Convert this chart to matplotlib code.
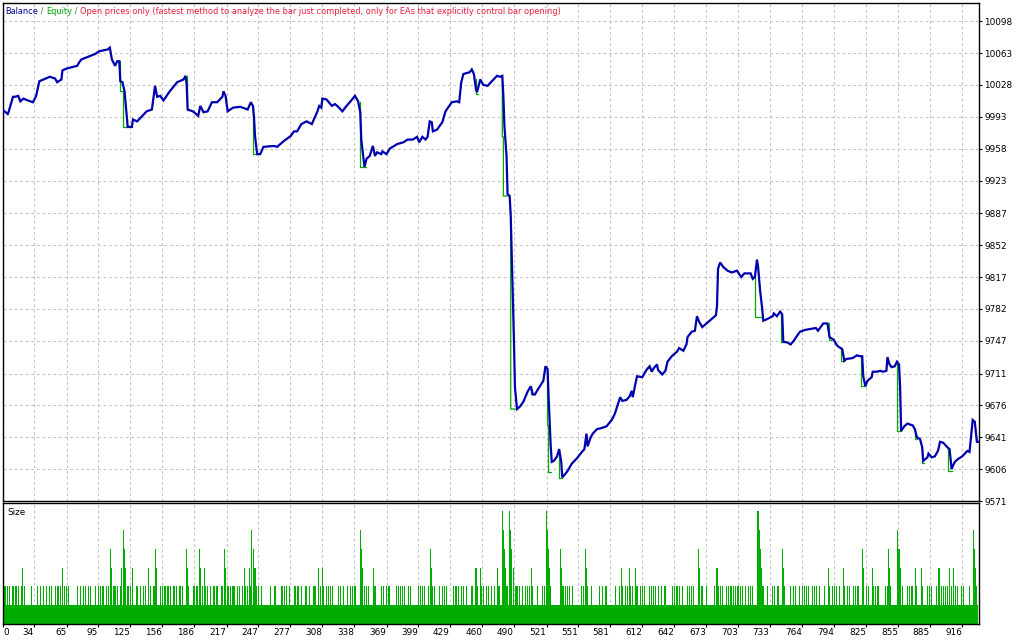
import numpy as np
import matplotlib.pyplot as plt

# balance curve (trade number, account balance)
balance_trades = [4, 9, 10, 14, 16, 19, 21, 24, 28, 33, 36, 39, 49, 54, 56, 60, 61, 65, 75, 77, 79, 92, 96, 104, 106,
                  108, 111, 113, 115, 116, 118, 120, 123, 127, 128, 132, 141, 146, 149, 151, 154, 157, 163, 170, 176,
                  178, 179, 180, 185, 190, 192, 195, 199, 203, 208, 213, 214, 216, 218, 223, 230, 237, 240, 242, 243,
                  244, 246, 249, 252, 262, 265, 271, 278, 281, 284, 288, 293, 298, 301, 303, 305, 307, 308, 312, 317,
                  320, 323, 327, 331, 334, 339, 342, 344, 345, 346, 348, 350, 353, 356, 358, 360, 364, 365, 369, 372,
                  379, 385, 389, 394, 398, 400, 403, 406, 408, 410, 412, 413, 417, 422, 425, 431, 436, 438, 440, 442,
                  448, 450, 452, 454, 455, 458, 461, 465, 469, 474, 477, 479, 480, 481, 483, 484, 486, 487, 488, 489,
                  490, 491, 493, 496, 499, 503, 506, 508, 510, 513, 518, 520, 522, 523, 525, 526, 528, 531, 533, 535,
                  536, 539, 541, 545, 550, 554, 557, 559, 560, 563, 565, 569, 573, 578, 583, 586, 591, 593, 597, 600,
                  602, 603, 605, 607, 612, 616, 619, 621, 623, 626, 627, 631, 634, 636, 640, 645, 647, 651, 654, 655,
                  659, 662, 664, 666, 669, 672, 676, 682, 683, 684, 686, 689, 693, 697, 702, 706, 709, 715, 717, 719,
                  721, 722, 724, 726, 727, 731, 736, 737, 740, 743, 745, 746, 750, 753, 756, 760, 762, 767, 772, 777,
                  779, 784, 788, 790, 794, 797, 799, 802, 804, 806, 812, 816, 819, 821, 822, 824, 826, 830, 831, 835,
                  838, 841, 844, 845, 847, 849, 852, 854, 856, 857, 858, 861, 864, 869, 871, 873, 876, 878, 879, 883,
                  884, 887, 890, 893, 895, 898, 902, 904, 906, 907, 909, 912, 916, 921, 923, 926, 928, 930, 932]
balance_values = [10001, 9996, 9999, 10015, 10015, 10016, 10010, 10013, 10011, 10009, 10016, 10032, 10037, 10035,
                  10031, 10034, 10044, 10046, 10049, 10053, 10056, 10062, 10065, 10067, 10069, 10056, 10049, 10054,
                  10054, 10032, 10031, 10021, 9982, 9982, 9990, 9988, 9999, 10001, 10027, 10015, 10016, 10011, 10021,
                  10031, 10034, 10038, 10029, 10001, 9999, 9994, 10005, 9998, 9999, 10009, 10009, 10015, 10021, 10016,
                  9999, 10003, 10004, 10001, 10009, 10005, 9993, 9972, 9952, 9952, 9960, 9961, 9960, 9966, 9972, 9977,
                  9977, 9985, 9988, 9985, 9993, 9998, 10005, 10003, 10013, 10012, 10005, 10007, 10004, 9999, 10005,
                  10009, 10016, 10010, 9998, 9968, 9958, 9938, 9947, 9950, 9961, 9950, 9954, 9952, 9955, 9952, 9958,
                  9963, 9965, 9968, 9968, 9971, 9965, 9971, 9968, 9971, 9988, 9987, 9977, 9979, 9987, 9999, 10009,
                  10010, 10009, 10031, 10040, 10042, 10045, 10040, 10023, 10020, 10034, 10028, 10027, 10032, 10038,
                  10037, 10038, 10016, 9983, 9950, 9908, 9906, 9884, 9840, 9793, 9750, 9696, 9672, 9675, 9680, 9691,
                  9697, 9688, 9688, 9694, 9703, 9719, 9716, 9685, 9631, 9614, 9615, 9620, 9628, 9614, 9597, 9601,
                  9604, 9612, 9618, 9624, 9628, 9645, 9631, 9641, 9645, 9650, 9651, 9653, 9660, 9667, 9685, 9681,
                  9682, 9686, 9692, 9685, 9697, 9708, 9707, 9715, 9719, 9713, 9717, 9721, 9715, 9710, 9714, 9724,
                  9730, 9735, 9739, 9736, 9743, 9751, 9757, 9758, 9774, 9768, 9762, 9765, 9769, 9775, 9785, 9826,
                  9833, 9828, 9824, 9822, 9824, 9817, 9821, 9821, 9815, 9817, 9836, 9829, 9802, 9782, 9769, 9771,
                  9774, 9777, 9774, 9779, 9776, 9746, 9745, 9743, 9747, 9754, 9757, 9759, 9760, 9761, 9758, 9766,
                  9766, 9751, 9748, 9742, 9740, 9738, 9725, 9727, 9728, 9731, 9730, 9730, 9708, 9697, 9703, 9707,
                  9713, 9713, 9714, 9713, 9714, 9729, 9721, 9718, 9719, 9724, 9721, 9697, 9648, 9653, 9656, 9654,
                  9650, 9641, 9639, 9630, 9615, 9619, 9623, 9619, 9620, 9626, 9636, 9635, 9630, 9628, 9606, 9609,
                  9614, 9617, 9620, 9626, 9625, 9660, 9658, 9636, 9636]

# places where equity ran ahead of the balance (drawdown before close)
equity_dips = [
    [(116, 10054), (116, 10021), (119, 10021), (119, 9982), (127, 9982)],
    [(179, 10038), (179, 10001), (181, 10001)],
    [(242, 10005), (242, 9952), (246, 9952)],
    [(344, 10009), (344, 9938), (349, 9938)],
    [(454, 10034), (454, 10018), (456, 10018)],
    [(479, 10037), (479, 9971), (480, 9971), (480, 9906), (486, 9906), (487, 9884), (487, 9672), (493, 9672)],
    [(506, 9697), (506, 9688), (508, 9688)],
    [(521, 9716), (521, 9655), (522, 9655), (522, 9603), (525, 9603)],
    [(533, 9628), (533, 9596), (536, 9596)],
    [(719, 9817), (719, 9773), (725, 9773)],
    [(744, 9779), (744, 9746), (746, 9746)],
    [(789, 9766), (789, 9748), (791, 9748)],
    [(801, 9738), (801, 9725), (804, 9725)],
    [(820, 9730), (820, 9697), (824, 9697)],
    [(854, 9724), (854, 9648), (858, 9648)],
    [(871, 9650), (871, 9639), (873, 9639)],
    [(878, 9630), (878, 9613), (880, 9613)],
    [(903, 9628), (903, 9604), (906, 9604)],
]

# lot size per trade: 1 unless listed
n_trades = 932
lot2 = [6, 7, 9, 11, 14, 16, 17, 19, 22, 25, 32, 37, 40, 43, 46, 49, 51, 54, 56, 57, 59, 63, 65, 67, 75, 78, 81,
        83, 86, 88, 92, 95, 97, 99, 100, 103, 105, 110, 111, 113, 116, 123, 124, 126, 131, 132, 135, 138, 140, 145,
        148, 154, 156, 158, 159, 161, 162, 164, 167, 169, 172, 173, 175, 181, 186, 188, 189, 194, 197, 199, 202,
        205, 207, 208, 212, 213, 218, 219, 221, 223, 224, 227, 229, 232, 235, 237, 240, 245, 247, 250, 259, 263,
        269, 270, 272, 274, 277, 282, 284, 285, 288, 292, 293, 296, 300, 301, 306, 309,
        312, 314, 316, 318, 323, 325, 328, 332, 335, 337, 339, 348, 350, 352, 358, 364, 366, 369, 371, 372, 378,
        380, 382, 384, 386, 390, 392, 399, 401, 403, 405, 409, 413, 415, 419, 422, 424, 426, 433, 435, 437, 440,
        442, 445, 450, 451, 455, 459, 461, 464, 466, 469, 472, 475, 476, 483, 484, 492, 493, 495, 498, 501, 503,
        505, 508, 512, 517, 519, 525, 536, 537, 539, 541, 543, 546, 554, 556, 560, 564, 571, 574, 577, 578, 587,
        590, 593, 596, 598, 601, 603, 607, 610, 612, 614, 619,
        621, 623, 625, 627, 630, 633, 634, 641, 643, 645, 647, 650, 655, 657, 659, 661, 668, 669, 673, 681, 684,
        686, 688, 692, 694, 696, 697, 699, 701, 703, 705, 707, 710, 713, 715, 717, 726, 727, 731, 736, 738, 741,
        747, 753, 756, 758, 761, 764, 766, 768, 770, 774, 776, 778, 780, 785, 790, 793, 795, 797, 799, 804, 807,
        809, 813, 815, 817, 825, 827, 832, 834, 836, 843, 845, 848, 859, 864, 866, 868, 869, 873, 878, 883, 885,
        887, 892, 896, 898, 900, 902, 906, 910, 912, 915, 917, 923, 930]
lot3 = [23, 61, 108, 117, 121, 128, 143, 150, 180, 192, 196, 216, 234, 239, 244, 304, 308, 346, 357, 412, 454,
        458, 474, 482, 490, 507, 524, 535, 559, 592, 600, 606, 666, 683, 725, 746, 789, 803, 822, 831, 847, 857,
        872, 877, 894, 904, 908, 929]
lot4 = [107, 120, 149, 179, 191, 215, 243, 345, 411, 481, 488, 523, 534, 558, 665, 724, 745, 821, 846, 856, 928]
lot5 = [119, 241, 344, 480, 487, 522, 723, 855, 927]
lot6 = [479, 486, 521, 722]

x_labels = [0, 34, 65, 95, 125, 156, 186, 217, 247, 277, 308, 338, 369, 399, 429, 460, 490, 521, 551, 581, 612,
            642, 673, 703, 733, 764, 794, 825, 855, 885, 916]
y_labels = [9571, 9606, 9641, 9676, 9711, 9747, 9782, 9817, 9852, 9887, 9923, 9958, 9993, 10028, 10063, 10098]

sizes = np.ones(n_trades)
for level, idx in [(2, lot2), (3, lot3), (4, lot4), (5, lot5), (6, lot6)]:
    sizes[idx] = np.maximum(sizes[idx], level)

FONT = 'DejaVu Sans'
FS = 6.4
x_left, x_right = 4.5, 932
grid_kw = dict(color='#c4c4c4', linestyle=(0, (2.5, 2.5)), linewidth=0.8)

fig = plt.figure(figsize=(10.24, 6.4), dpi=100)
ax = fig.add_axes([3 / 1024, 1 - 501 / 640, 976 / 1024, 498 / 640])
ax2 = fig.add_axes([3 / 1024, 16 / 640, 976 / 1024, 121 / 640])

xticks = [x_left] + x_labels[1:]

# main panel: balance / equity
for dip in equity_dips:
    ax.plot([p[0] for p in dip], [p[1] for p in dip], color='#00a800', lw=0.9, zorder=2)
ax.plot(balance_trades, balance_values, color='#0000b0', lw=1.6, zorder=3, solid_joinstyle='miter')
ax.set_xlim(x_left, x_right)
ax.set_ylim(9571, 10118)
ax.set_xticks(xticks)
ax.set_yticks(y_labels)
ax.set_yticklabels([str(v) for v in y_labels], fontsize=FS, family=FONT)
ax.yaxis.tick_right()
ax.tick_params(axis='x', length=0, labelbottom=False)
ax.tick_params(axis='y', length=2, width=0.8, pad=2)
ax.grid(True, **grid_kw)
ax.set_axisbelow(True)

# title built from coloured pieces
TFS = 6.6
parts = [('Balance', '#00009a'), (' / ', '#3a7a3a'), ('Equity', '#00a800'), (' / ', '#3a7a3a'),
         ('Open prices only (fastest method to analyze the bar just completed, only for EAs that explicitly '
          'control bar opening)', '#ee1c3c')]
prev = fig.text(5 / 1024, 1 - 11 / 640, parts[0][0], color=parts[0][1], fontsize=TFS, family=FONT,
                fontstretch='condensed', va='center')
for txt, col in parts[1:]:
    prev = ax.annotate(txt, xy=(1, 0), xycoords=prev, va='bottom', ha='left', color=col, fontsize=TFS,
                       family=FONT, fontstretch='condensed')

# size panel
ax2.bar(np.arange(n_trades), sizes, width=1.0, color='#00ad00', linewidth=0, antialiased=False, zorder=2)
ax2.set_xlim(x_left, x_right)
ax2.set_ylim(0, 6.43)
ax2.set_yticks([])
ax2.set_xticks(xticks)
ax2.set_xticklabels([str(v) for v in x_labels], fontsize=FS, family=FONT)
ax2.tick_params(axis='x', length=2, width=0.8, pad=1)
ax2.grid(True, axis='x', **grid_kw)
ax2.set_axisbelow(True)
for i, lbl in enumerate(ax2.get_xticklabels()):
    lbl.set_horizontalalignment('left' if i == 0 else 'right')
ax2.text(0.004, 0.92, 'Size', transform=ax2.transAxes, fontsize=FS, family=FONT, va='center', ha='left')

for a in (ax, ax2):
    for s in a.spines.values():
        s.set_linewidth(1.0)
        s.set_color('black')

fig.savefig('out.png', dpi=100)
